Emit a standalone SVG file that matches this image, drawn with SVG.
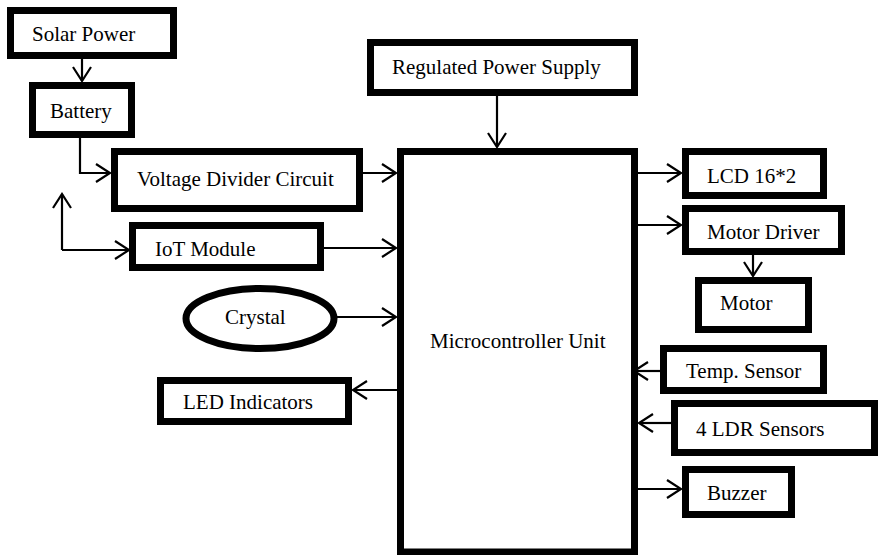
<svg xmlns="http://www.w3.org/2000/svg" width="878" height="555" viewBox="0 0 878 555">
<defs>
<marker id="ah" markerUnits="userSpaceOnUse" viewBox="-16 -11 18 22" markerWidth="18" markerHeight="22" refX="0" refY="0" orient="auto">
<path d="M-14,-9 L0,0 L-14,9" fill="none" stroke="#000" stroke-width="2.2"/>
</marker>
</defs>
<style>
.box{fill:#fff;stroke:#000;stroke-width:7}
text{font-family:'Liberation Serif','DejaVu Serif','Times New Roman',serif;font-size:21px;fill:#000}
.c line,.c path{stroke:#000;stroke-width:2.2;fill:none;marker-end:url(#ah)}
</style>
<rect width="878" height="555" fill="#fff"/>
<g font-family="Liberation Serif, DejaVu Serif, serif" font-size="21">
<g id="solar"><rect class="box" x="10.5" y="10.5" width="163" height="45"/><text x="32" y="41">Solar Power</text></g>
<g id="battery"><rect class="box" x="32.5" y="85.5" width="99" height="49"/><text x="50" y="118">Battery</text></g>
<g id="divider"><rect class="box" x="114.5" y="151.5" width="245" height="57"/><text x="137" y="186">Voltage Divider Circuit</text></g>
<g id="iot"><rect class="box" x="132.5" y="225.5" width="188" height="42"/><text x="155" y="256">IoT Module</text></g>
<g id="rps"><rect class="box" x="370.5" y="42.5" width="264" height="50"/><text x="392" y="74">Regulated Power Supply</text></g>
<g id="mcu"><rect class="box" x="400.5" y="151.5" width="234" height="400.5"/><text x="430" y="348">Microcontroller Unit</text></g>
<g id="crystal"><ellipse class="box" cx="260" cy="318.5" rx="74" ry="30"/><text x="225" y="324">Crystal</text></g>
<g id="led"><rect class="box" x="160.5" y="380.5" width="188" height="41"/><text x="183" y="409">LED Indicators</text></g>
<g id="lcd"><rect class="box" x="685.5" y="151.5" width="138" height="44"/><text x="707" y="183">LCD 16*2</text></g>
<g id="motordriver"><rect class="box" x="685.5" y="208.5" width="156" height="43"/><text x="707" y="239">Motor Driver</text></g>
<g id="motor"><rect class="box" x="698.5" y="280.5" width="110" height="49"/><text x="720" y="310">Motor</text></g>
<g id="temp"><rect class="box" x="663.5" y="348.5" width="160" height="42"/><text x="686" y="378">Temp. Sensor</text></g>
<g id="ldr"><rect class="box" x="674.5" y="403.5" width="200" height="49"/><text x="696" y="436">4 LDR Sensors</text></g>
<g id="buzzer"><rect class="box" x="685.5" y="469.5" width="106" height="45"/><text x="707" y="500">Buzzer</text></g>
</g>
<g id="connectors" class="c">
<line x1="82" y1="59" x2="82" y2="81"/>
<path d="M80,138 V173 H110"/>
<line x1="363" y1="173" x2="396" y2="173"/>
<line x1="62" y1="250" x2="62" y2="194"/>
<line x1="62" y1="250" x2="129" y2="250"/>
<line x1="324" y1="248" x2="396" y2="248"/>
<line x1="497" y1="96" x2="497" y2="147"/>
<line x1="337" y1="317" x2="396" y2="317"/>
<line x1="397" y1="390" x2="353" y2="390"/>
<line x1="638" y1="173" x2="681" y2="173"/>
<line x1="638" y1="225" x2="681" y2="225"/>
<line x1="753" y1="255" x2="753" y2="276"/>
<line x1="660" y1="371" x2="634" y2="371"/>
<line x1="671" y1="423" x2="639" y2="423"/>
<line x1="638" y1="489" x2="681" y2="489"/>
</g>
</svg>
